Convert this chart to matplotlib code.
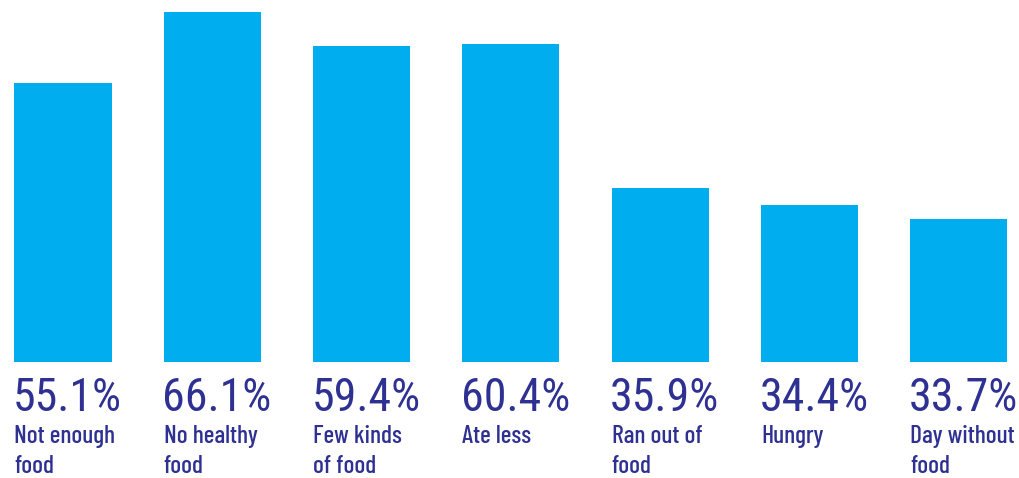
import numpy as np
import matplotlib.pyplot as plt
from matplotlib import transforms

# values
categories = ['Not enough\nfood', 'No healthy\nfood', 'Few kinds\nof food', 'Ate less',
              'Ran out of\nfood', 'Hungry', 'Day without\nfood']
pct_labels = ['55.1%', '66.1%', '59.4%', '60.4%', '35.9%', '34.4%', '33.7%']
# bar heights as drawn (they are not exactly proportional to the labels)
bar_heights = [52.6, 66.0, 59.6, 60.0, 32.8, 29.6, 27.0]

bar_color = '#00aeef'
text_color = '#2e3192'
pct_font = ['Roboto Condensed', 'DejaVu Sans']
lab_font = ['Barlow Condensed', 'DejaVu Sans']

fig = plt.figure(figsize=(10.19, 4.78), dpi=100)
ax = fig.add_axes([0, 116 / 478, 1, 362 / 478])

x = np.arange(len(categories))
width = 0.65
ax.bar(x, bar_heights, width=width, color=bar_color)
ax.set_xlim(-63 / 149.3, (1019 - 63) / 149.3)
ax.set_ylim(0, 362 / 5.3)
ax.axis('off')

trans = transforms.blended_transform_factory(ax.transData, fig.transFigure)
for i in x:
    ax.text(i - width / 2 - 0.01, 1 - 411 / 478, pct_labels[i], transform=trans,
            ha='left', va='baseline', fontsize=33, color=text_color,
            family=pct_font)
    ax.text(i - width / 2, 1 - 425 / 478, categories[i], transform=trans,
            ha='left', va='top', fontsize=18.3, color=text_color,
            family=lab_font, weight='medium', linespacing=1.38)

fig.savefig('out.png', dpi=100)
